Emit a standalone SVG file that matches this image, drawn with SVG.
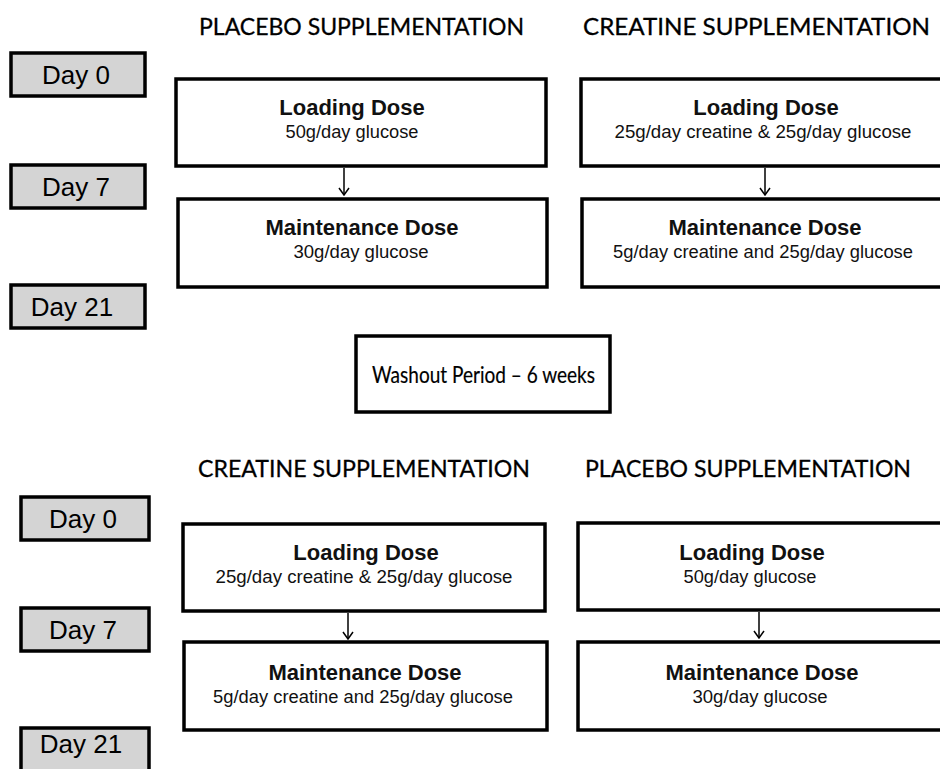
<svg xmlns="http://www.w3.org/2000/svg" width="940" height="769" viewBox="0 0 940 769">
<defs>
<style>
.box{fill:#fff;stroke:#000;stroke-width:3.5}
.day{fill:#d4d4d4;stroke:#000;stroke-width:3.5}
.dayt{font-family:"Liberation Sans",Arial,sans-serif;font-size:26px;text-anchor:middle;fill:#000}
.t{font-family:"Liberation Sans",Arial,sans-serif;font-size:22px;font-weight:bold;text-anchor:middle;fill:#111}
.s{font-family:"Liberation Sans",Arial,sans-serif;font-size:17.5px;text-anchor:middle;fill:#111}
.h{font-family:Lato,"Open Sans","Liberation Sans",sans-serif;font-size:23px;fill:#000;stroke:#000;stroke-width:0.3}
.w{font-family:Lato,"Open Sans","Liberation Sans",sans-serif;font-size:24px;fill:#000;stroke:#000;stroke-width:0.2}
.conn{stroke:#000;stroke-width:1.5;fill:none}
</style>
<marker id="arr" viewBox="0 0 12 12" refX="11" refY="6" markerWidth="12" markerHeight="12" markerUnits="userSpaceOnUse" orient="auto">
<path d="M4,1 L11,6 L4,11" fill="none" stroke="#000" stroke-width="1.5"/>
</marker>
</defs>
<rect width="940" height="769" fill="#fff"/>

<g id="headings">
<text class="h" x="199" y="35" textLength="325" lengthAdjust="spacingAndGlyphs">PLACEBO SUPPLEMENTATION</text>
<text class="h" x="583" y="35" textLength="347" lengthAdjust="spacingAndGlyphs">CREATINE SUPPLEMENTATION</text>
<text class="h" x="198" y="477" textLength="332" lengthAdjust="spacingAndGlyphs">CREATINE SUPPLEMENTATION</text>
<text class="h" x="585" y="477" textLength="326" lengthAdjust="spacingAndGlyphs">PLACEBO SUPPLEMENTATION</text>
</g>

<g id="day0-top"><rect class="day" x="11" y="53" width="134" height="43"/><text class="dayt" x="76" y="84">Day 0</text></g>
<g id="day7-top"><rect class="day" x="11" y="165" width="134" height="43"/><text class="dayt" x="76" y="196">Day 7</text></g>
<g id="day21-top"><rect class="day" x="11" y="285" width="134" height="43"/><text class="dayt" x="72" y="316">Day 21</text></g>

<g id="day0-bot"><rect class="day" x="21" y="497" width="128" height="43"/><text class="dayt" x="83" y="528">Day 0</text></g>
<g id="day7-bot"><rect class="day" x="21" y="608" width="128" height="43"/><text class="dayt" x="83" y="639">Day 7</text></g>
<g id="day21-bot"><rect class="day" x="21" y="728" width="128" height="50"/><text class="dayt" x="81" y="753">Day 21</text></g>

<g id="tl-load"><rect class="box" x="176" y="79" width="370" height="87"/>
<text class="t" x="352" y="115">Loading Dose</text><text class="s" x="352" y="138" textLength="133" lengthAdjust="spacingAndGlyphs">50g/day glucose</text></g>
<g id="tl-maint"><rect class="box" x="178" y="199" width="369" height="88"/>
<text class="t" x="362" y="235">Maintenance Dose</text><text class="s" x="361" y="258" textLength="135" lengthAdjust="spacingAndGlyphs">30g/day glucose</text></g>

<g id="tr-load"><rect class="box" x="581" y="79" width="370" height="87"/>
<text class="t" x="766" y="115">Loading Dose</text><text class="s" x="763" y="138" textLength="297" lengthAdjust="spacingAndGlyphs">25g/day creatine &amp;  25g/day glucose</text></g>
<g id="tr-maint"><rect class="box" x="582" y="199" width="370" height="88"/>
<text class="t" x="765" y="235">Maintenance Dose</text><text class="s" x="763" y="258" textLength="300" lengthAdjust="spacingAndGlyphs">5g/day creatine and 25g/day glucose</text></g>

<g id="washout"><rect class="box" x="356" y="336" width="254" height="76"/>
<text class="w" x="372" y="383" textLength="223" lengthAdjust="spacingAndGlyphs">Washout Period – 6 weeks</text></g>

<g id="bl-load"><rect class="box" x="183" y="524" width="362" height="87"/>
<text class="t" x="366" y="560">Loading Dose</text><text class="s" x="364" y="583" textLength="297" lengthAdjust="spacingAndGlyphs">25g/day creatine &amp;  25g/day glucose</text></g>
<g id="bl-maint"><rect class="box" x="184" y="642" width="363" height="88"/>
<text class="t" x="365" y="680">Maintenance Dose</text><text class="s" x="363" y="703" textLength="300" lengthAdjust="spacingAndGlyphs">5g/day creatine and 25g/day glucose</text></g>

<g id="br-load"><rect class="box" x="578" y="523" width="372" height="87"/>
<text class="t" x="752" y="560">Loading Dose</text><text class="s" x="750" y="583" textLength="133" lengthAdjust="spacingAndGlyphs">50g/day glucose</text></g>
<g id="br-maint"><rect class="box" x="578" y="642" width="372" height="88"/>
<text class="t" x="762" y="680">Maintenance Dose</text><text class="s" x="760" y="703" textLength="135" lengthAdjust="spacingAndGlyphs">30g/day glucose</text></g>

<g id="connectors">
<line class="conn" x1="344" y1="168" x2="344" y2="195" marker-end="url(#arr)"/>
<line class="conn" x1="765" y1="168" x2="765" y2="195" marker-end="url(#arr)"/>
<line class="conn" x1="348" y1="613" x2="348" y2="639" marker-end="url(#arr)"/>
<line class="conn" x1="759" y1="612" x2="759" y2="638" marker-end="url(#arr)"/>
</g>
</svg>
